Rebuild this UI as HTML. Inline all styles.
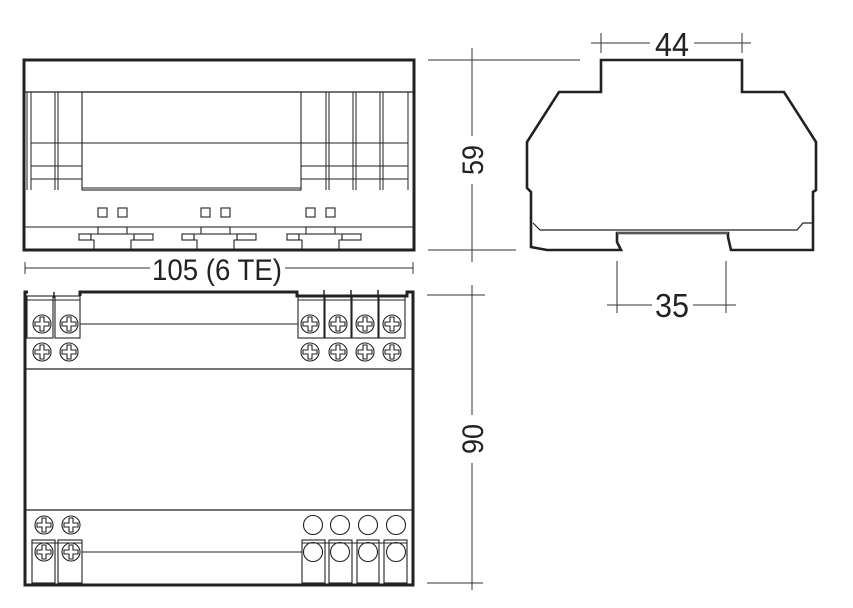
<!DOCTYPE html>
<html><head><meta charset="utf-8"><style>
html,body{margin:0;padding:0;background:#fff;}
svg{display:block;}
text{font-family:"Liberation Sans",sans-serif;fill:#222;}
</style></head><body>
<svg width="853" height="608" viewBox="0 0 853 608" xmlns="http://www.w3.org/2000/svg">
<defs>
<g id="scr" fill="none" stroke="#222" stroke-width="1.1">
<circle r="9"/>
<polygon points="-2,-7 2,-7 2,-2 7,-2 7,2 2,2 2,7 -2,7 -2,2 -7,2 -7,-2 -2,-2"/>
</g>
<g id="clip" fill="none" stroke="#222" stroke-width="1.1">
<rect x="19" y="227" width="29" height="7"/>
<rect x="0" y="234" width="12" height="6"/>
<rect x="55" y="234" width="19" height="6"/>
<polyline points="12,234 12,240 15,240 15,250"/>
<polyline points="55,234 55,240 52,240 52,250"/>
<line x1="12" y1="234" x2="55" y2="234"/>
<rect x="19" y="208" width="9" height="9"/>
<rect x="39" y="208" width="9" height="9"/>
</g>
</defs>

<g stroke="#222" fill="none">
<line x1="25" y1="92" x2="413" y2="92" stroke-width="1.2"/>
<rect x="82" y="92" width="219" height="98" stroke-width="1.1"/>
<line x1="82" y1="188" x2="301" y2="188" stroke-width="1"/>
<line x1="31" y1="143" x2="408" y2="143" stroke-width="1"/>
<line x1="31" y1="166" x2="82" y2="166" stroke-width="1"/>
<line x1="31" y1="179" x2="82" y2="179" stroke-width="1"/>
<line x1="301" y1="166" x2="408" y2="166" stroke-width="1"/>
<line x1="301" y1="179" x2="408" y2="179" stroke-width="1"/>
<g stroke-width="1">
<line x1="27" y1="92" x2="27" y2="190"/><line x1="31" y1="92" x2="31" y2="190"/>
<line x1="55" y1="92" x2="55" y2="190"/><line x1="58" y1="92" x2="58" y2="190"/>
<line x1="326" y1="92" x2="326" y2="190"/><line x1="329" y1="92" x2="329" y2="190"/>
<line x1="353" y1="92" x2="353" y2="190"/><line x1="356" y1="92" x2="356" y2="190"/>
<line x1="380" y1="92" x2="380" y2="190"/><line x1="383" y1="92" x2="383" y2="190"/>
<line x1="408" y1="92" x2="408" y2="190"/>
</g>
<line x1="25" y1="227" x2="413" y2="227" stroke-width="1.1"/>
<rect x="24" y="60" width="390" height="190" stroke-width="3"/>
</g>
<use href="#clip" x="79"/>
<use href="#clip" x="182"/>
<use href="#clip" x="287"/>

<g stroke="#333" stroke-width="1">
<line x1="25" y1="268" x2="150" y2="268"/>
<line x1="285" y1="268" x2="413" y2="268"/>
<line x1="25" y1="262" x2="25" y2="274"/>
<line x1="413" y1="262" x2="413" y2="274"/>
</g>
<text x="217" y="280" font-size="30" text-anchor="middle" textLength="130" lengthAdjust="spacingAndGlyphs">105 (6 TE)</text>

<g stroke="#333" stroke-width="1">
<line x1="428" y1="60" x2="580" y2="60"/>
<line x1="428" y1="250" x2="516" y2="250"/>
<line x1="472" y1="48" x2="472" y2="136"/>
<line x1="472" y1="184" x2="472" y2="262"/>
</g>
<text transform="translate(483,160) rotate(-90)" font-size="30" text-anchor="middle" textLength="30" lengthAdjust="spacingAndGlyphs">59</text>

<g fill="none" stroke="#222" stroke-width="2.6" stroke-linejoin="miter">
<polygon points="601,60 742,60 742,92 784,92 816,142 816,190 813,192 813,250 731,250 728,237 728,233 617,233 617,242 621,250 547,250 531,247 531,192 527,188 527,142 559,92 601,92"/>
</g>
<polyline points="533,223 540,230 797,230 803,223 813,223" fill="none" stroke="#222" stroke-width="1.2"/>
<line x1="617" y1="233" x2="728" y2="233" stroke="#555" stroke-width="2"/>
<g stroke="#333" stroke-width="1">
<line x1="591" y1="43" x2="650" y2="43"/>
<line x1="694" y1="43" x2="751" y2="43"/>
<line x1="601" y1="33" x2="601" y2="53"/>
<line x1="742" y1="33" x2="742" y2="53"/>
</g>
<text x="672" y="56" font-size="33" text-anchor="middle" textLength="34" lengthAdjust="spacingAndGlyphs">44</text>
<g stroke="#333" stroke-width="1">
<line x1="617" y1="261" x2="617" y2="313"/>
<line x1="726" y1="261" x2="726" y2="313"/>
<line x1="607" y1="305" x2="652" y2="305"/>
<line x1="693" y1="305" x2="736" y2="305"/>
</g>
<text x="672" y="317" font-size="33" text-anchor="middle" textLength="34" lengthAdjust="spacingAndGlyphs">35</text>

<g fill="none" stroke="#222">
<line x1="26" y1="369" x2="412" y2="369" stroke-width="1.2"/>
<line x1="26" y1="510" x2="412" y2="510" stroke-width="1.2"/>
<line x1="80" y1="324" x2="298" y2="324" stroke-width="1.1"/>
<line x1="82" y1="552" x2="302" y2="552" stroke-width="1.1"/>
<g stroke-width="1.1">
<rect x="27" y="296" width="26" height="42"/><rect x="55" y="296" width="25" height="42"/>
<line x1="27" y1="300" x2="80" y2="300"/>
<rect x="298" y="296" width="26" height="42"/><rect x="325" y="296" width="26" height="42"/>
<rect x="352" y="296" width="26" height="42"/><rect x="379" y="296" width="26" height="42"/>
<line x1="298" y1="300" x2="405" y2="300"/>
<rect x="32" y="540" width="23" height="43"/><rect x="58" y="540" width="24" height="43"/>
<rect x="302" y="540" width="23" height="43"/><rect x="329" y="540" width="23" height="43"/>
<rect x="357" y="540" width="22" height="43"/><rect x="384" y="540" width="23" height="43"/>
<line x1="32" y1="543" x2="82" y2="543"/><line x1="302" y1="543" x2="407" y2="543"/>
</g>
<polyline stroke-width="3" points="80,296 80,292 297,292 297,296 407,296 407,292 413,292 413,585 25,585 25,292 28,292" />
<g stroke-width="1.5">
<line x1="54" y1="292" x2="54" y2="298"/><line x1="324" y1="290" x2="324" y2="298"/>
<line x1="351" y1="290" x2="351" y2="298"/><line x1="378" y1="290" x2="378" y2="298"/>
</g>
<g stroke-width="1.1">
<circle cx="313" cy="525" r="9.5"/><circle cx="340" cy="525" r="9.5"/>
<circle cx="368" cy="525" r="9.5"/><circle cx="396" cy="525" r="9.5"/>
<circle cx="313" cy="552" r="9.5"/><circle cx="340" cy="552" r="9.5"/>
<circle cx="368" cy="552" r="9.5"/><circle cx="396" cy="552" r="9.5"/>
</g>
</g>
<use href="#scr" x="42" y="324"/><use href="#scr" x="69" y="324"/>
<use href="#scr" x="42" y="352"/><use href="#scr" x="69" y="352"/>
<use href="#scr" x="310" y="324"/><use href="#scr" x="338" y="324"/>
<use href="#scr" x="365" y="324"/><use href="#scr" x="392" y="324"/>
<use href="#scr" x="310" y="352"/><use href="#scr" x="338" y="352"/>
<use href="#scr" x="365" y="352"/><use href="#scr" x="392" y="352"/>
<use href="#scr" x="44" y="525"/><use href="#scr" x="71" y="525"/>
<use href="#scr" x="44" y="552"/><use href="#scr" x="71" y="552"/>

<g stroke="#333" stroke-width="1">
<line x1="427" y1="295" x2="485" y2="295"/>
<line x1="427" y1="583" x2="483" y2="583"/>
<line x1="472" y1="285" x2="472" y2="415"/>
<line x1="472" y1="463" x2="472" y2="590"/>
</g>
<text transform="translate(483,439) rotate(-90)" font-size="30" text-anchor="middle" textLength="30" lengthAdjust="spacingAndGlyphs">90</text>
</svg>
</body></html>
